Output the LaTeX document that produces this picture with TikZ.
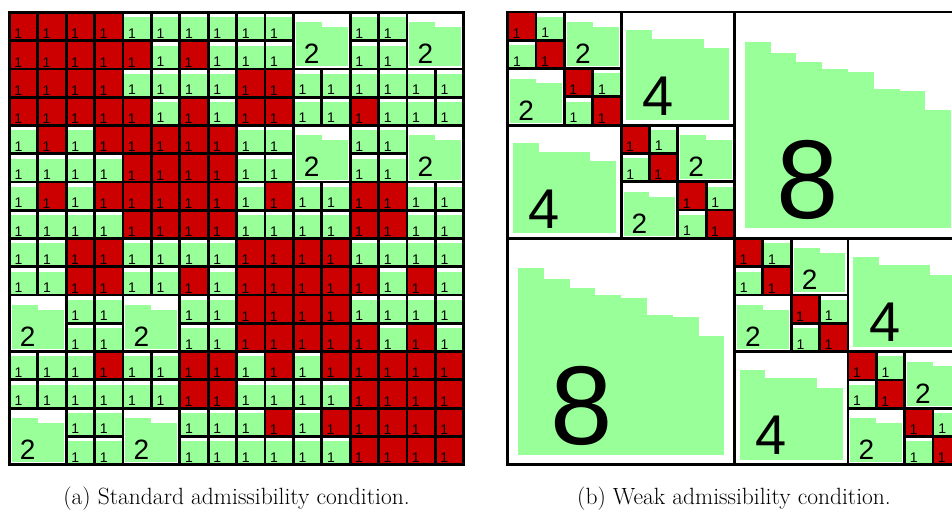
\documentclass[tikz,border=0pt]{standalone}
\usepackage{fontspec}
\usepackage{xcolor}
\usepackage{tikz}
\usetikzlibrary{calc}
\newfontfamily\rankfont{Liberation Sans}
\definecolor{lrG}{RGB}{153,255,153}
\definecolor{fullR}{RGB}{204,0,0}
\tikzset{blockline/.style={line width=2.8pt, black},
  rankno/.style={anchor=base west, inner sep=0pt, font=\rankfont\fontsize{14}{14}\selectfont},
  capt/.style={anchor=base, inner sep=0pt, font=\fontsize{23.5}{28}\selectfont}}
% full (inadmissible) cell: col, row, name
\newcommand{\denseblk}[3]{%
  \fill[fullR] ($(#1,#2)+(0.04,0.04)$) rectangle ($(#1,#2)+(0.96,0.96)$);
  \draw[blockline] (#1,#2) rectangle ++(1,1);
  \node[rankno] (#3) at ($(#1,#2)+(0.17,0.93)$) {1};}
% low-rank block: col, row, size, bar tops, name
\newcommand{\lrblk}[5]{%
  \foreach \btop [count=\bi from 0] in {#4}
    \fill[lrG] ({#1+0.045*#3+0.91*\bi},{#2+\btop*#3}) rectangle ++(0.91,{(0.955-\btop)*#3});
  \draw[blockline] (#1,#2) rectangle ++(#3,#3);
  \node[rankno, scale=#3] (#5) at ({#1+0.18*#3},{#2+0.91*#3}) {#3};}
\newcommand{\cellR}[3]{\denseblk{#1}{#2}{#3}}
\newcommand{\cellG}[3]{\lrblk{#1}{#2}{1}{0.17}{#3}}
\newcommand{\cellX}[3]{}
\begin{document}
\begin{tikzpicture}[x=1pt, y=-1pt]
\path[use as bounding box, fill=white] (0,0) rectangle (952,510);
% (a) standard admissibility
\begin{scope}[shift={(9.3,12.5)}, x=28.4pt, y=-28.26pt]
\foreach \cells [count=\rowno from 0] in {
  {R,R,R,R,G,G,G,G,G,G,X,X,G,G,X,X},
  {R,R,R,R,R,G,R,G,G,G,X,X,G,G,X,X},
  {R,R,R,R,G,G,G,G,R,R,G,G,G,G,G,G},
  {R,R,R,R,R,G,R,G,R,R,G,G,R,G,G,G},
  {G,R,G,R,R,R,R,R,G,G,X,X,G,G,X,X},
  {G,G,G,G,R,R,R,R,G,G,X,X,G,G,X,X},
  {G,R,G,R,R,R,R,R,G,R,G,G,R,R,G,G},
  {G,G,G,G,R,R,R,R,G,G,G,G,R,R,G,G},
  {G,G,R,R,G,G,G,G,R,R,R,R,G,G,G,G},
  {G,G,R,R,G,G,R,G,R,R,R,R,R,G,R,G},
  {X,X,G,G,X,X,G,G,R,R,R,R,G,G,G,G},
  {X,X,G,G,X,X,G,G,R,R,R,R,R,G,R,G},
  {G,G,G,R,G,G,R,R,G,R,G,R,R,R,R,R},
  {G,G,G,G,G,G,R,R,G,G,G,G,R,R,R,R},
  {X,X,G,G,X,X,G,G,G,R,G,R,R,R,R,R},
  {X,X,G,G,X,X,G,G,G,G,G,G,R,R,R,R}}
  \foreach \c [count=\colno from 0] in \cells
    \csname cell\c\endcsname{\colno}{\rowno}{a-\rowno-\colno};
% rank-2 blocks
\foreach \bx/\by [count=\n] in {10/0,14/0,10/4,14/4,0/10,4/10,0/14,4/14}
  \lrblk{\bx}{\by}{2}{0.176,0.26}{a2-\n};
\end{scope}
% (b) weak admissibility
\begin{scope}[shift={(507.7,12)}, x=28.35pt, y=-28.3pt]
\foreach \dg [evaluate=\dg as \dn using int(\dg+1)] in {0,2,...,14} {
  \denseblk{\dg}{\dg}{b-\dg-\dg}
  \lrblk{\dn}{\dg}{1}{0.17}{b-\dg-\dn}
  \lrblk{\dg}{\dn}{1}{0.17}{b-\dn-\dg}
  \denseblk{\dn}{\dn}{b-\dn-\dn}
}
\foreach \dg [evaluate=\dg as \dn using int(\dg+2)] in {0,4,8,12} {
  \lrblk{\dn}{\dg}{2}{0.176,0.26}{b2-\dg-\dn}
  \lrblk{\dg}{\dn}{2}{0.176,0.26}{b2-\dn-\dg}
}
\foreach \dg [evaluate=\dg as \dn using int(\dg+4)] in {0,8} {
  \lrblk{\dn}{\dg}{4}{0.16,0.235,0.235,0.32}{b4-\dg-\dn}
  \lrblk{\dg}{\dn}{4}{0.16,0.235,0.235,0.32}{b4-\dn-\dg}
}
\lrblk{8}{0}{8}{0.131,0.181,0.219,0.251,0.263,0.339,0.348,0.432}{b8-0-8}
\lrblk{0}{8}{8}{0.131,0.181,0.219,0.251,0.263,0.339,0.348,0.432}{b8-8-0}
\end{scope}
% captions
\node[capt] (capA) at (236.5,504) {(a) Standard admissibility condition.};
\node[capt] (capB) at (734,504) {(b) Weak admissibility condition.};
\end{tikzpicture}
\end{document}
